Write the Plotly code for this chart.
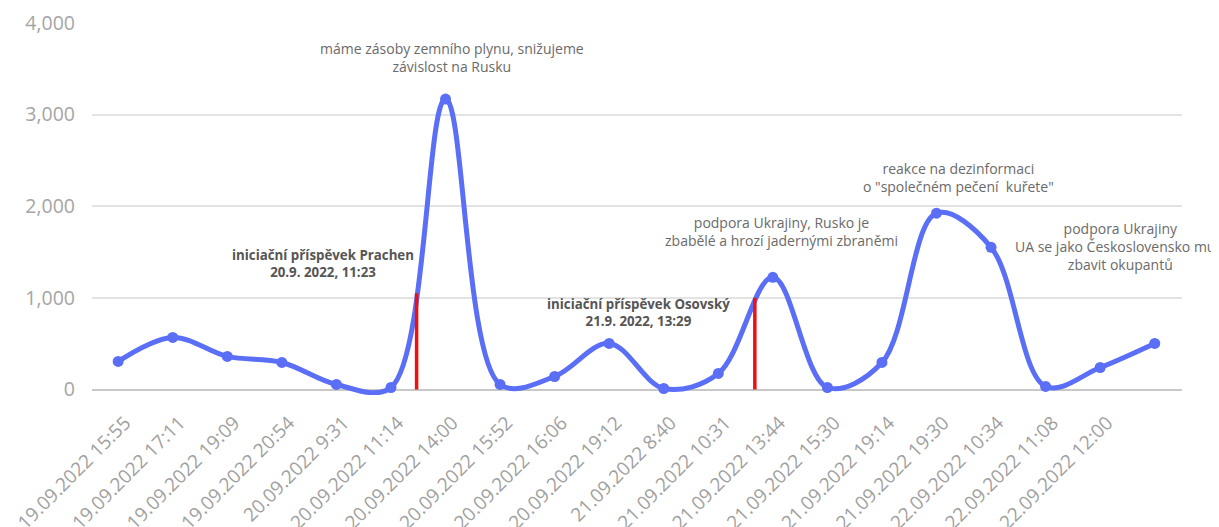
import plotly.graph_objects as go

# tick labels (the last point carries no label in the original chart)
categories = [
    "19.09.2022 15:55", "19.09.2022 17:11", "19.09.2022 19:09", "19.09.2022 20:54",
    "20.09.2022 9:31", "20.09.2022 11:14", "20.09.2022 14:00", "20.09.2022 15:52",
    "20.09.2022 16:06", "20.09.2022 19:12", "21.09.2022 8:40", "21.09.2022 10:31",
    "21.09.2022 13:44", "21.09.2022 15:30", "21.09.2022 19:14", "21.09.2022 19:30",
    "22.09.2022 10:34", "22.09.2022 11:08", "22.09.2022 12:00",
]
values = [306, 568, 361, 295, 55, 22, 3170, 55, 142, 503, 11, 175, 1224, 22, 295,
          1924, 1552, 33, 240, 503]

# event markers (red vertical lines): position on the point-index scale and height
event_x = [5.47, 11.67]
event_y = [1050, 1000]

notes = [
    "máme zásoby zemního plynu, snižujeme<br>závislost na Rusku",
    "<b>iniciační příspěvek Prachen<br>20.9. 2022, 11:23</b>",
    "<b>iniciační příspěvek Osovský<br>21.9. 2022, 13:29</b>",
    "podpora Ukrajiny, Rusko je<br>zbabělé a hrozí jadernými zbraněmi",
    "reakce na dezinformaci<br>o \"společném pečení  kuřete\"",
    "podpora Ukrajiny<br>UA se jako Československo musí<br>zbavit okupantů",
]
note_x = [6.12, 3.75, 9.53, 12.15, 15.4, 18.37]
note_y = [3620, 1377, 836, 1727, 2317, 1563]

fig = go.Figure()
fig.add_trace(go.Scatter(
    x=list(range(len(values))), y=values, mode="lines+markers",
    line=dict(color="#5a6ef6", width=5, shape="spline", smoothing=1.0),
    marker=dict(color="#5a6ef6", size=11),
    hoverinfo="skip", showlegend=False,
))

for ex, ey in zip(event_x, event_y):
    fig.add_shape(type="line", xref="x", yref="y", x0=ex, x1=ex, y0=0, y1=ey,
                  line=dict(color="#ee1111", width=3.5), layer="above")

for t, ax, ay in zip(notes, note_x, note_y):
    bold = t.startswith("<b>")
    fig.add_annotation(x=ax, y=ay, xref="x", yref="y", text=t, showarrow=False,
                       font=dict(size=13.3 if bold else 14,
                                 color="#555555" if bold else "#6a6a6a",
                                 family="Open Sans"),
                       align="center")

fig.update_layout(
    width=1211, height=519,
    margin=dict(l=84, r=37, t=15, b=132),
    paper_bgcolor="white", plot_bgcolor="white",
    font=dict(family="Open Sans", color="#999999"),
    xaxis=dict(
        tickmode="array", tickvals=list(range(len(categories))), ticktext=categories,
        range=[-0.48, len(values) - 0.5], tickangle=-45,
        tickfont=dict(size=19, color="#a0a0a0"), showgrid=False, zeroline=False,
        showline=False, ticks="", automargin=False,
        ticklabelstandoff=12, ticklabelshift=7,
    ),
    yaxis=dict(
        range=[-60, 4000], tickvals=[0, 1000, 2000, 3000, 4000], tickformat=",",
        tickfont=dict(size=19.5, color="#a5a5a5"), gridcolor="#e3e3e3", gridwidth=1.5,
        zeroline=True, zerolinecolor="#c8c8c8", zerolinewidth=2, showline=False,
        ticks="", ticklabelstandoff=16, automargin=False,
    ),
)

fig.write_html("out.html")
